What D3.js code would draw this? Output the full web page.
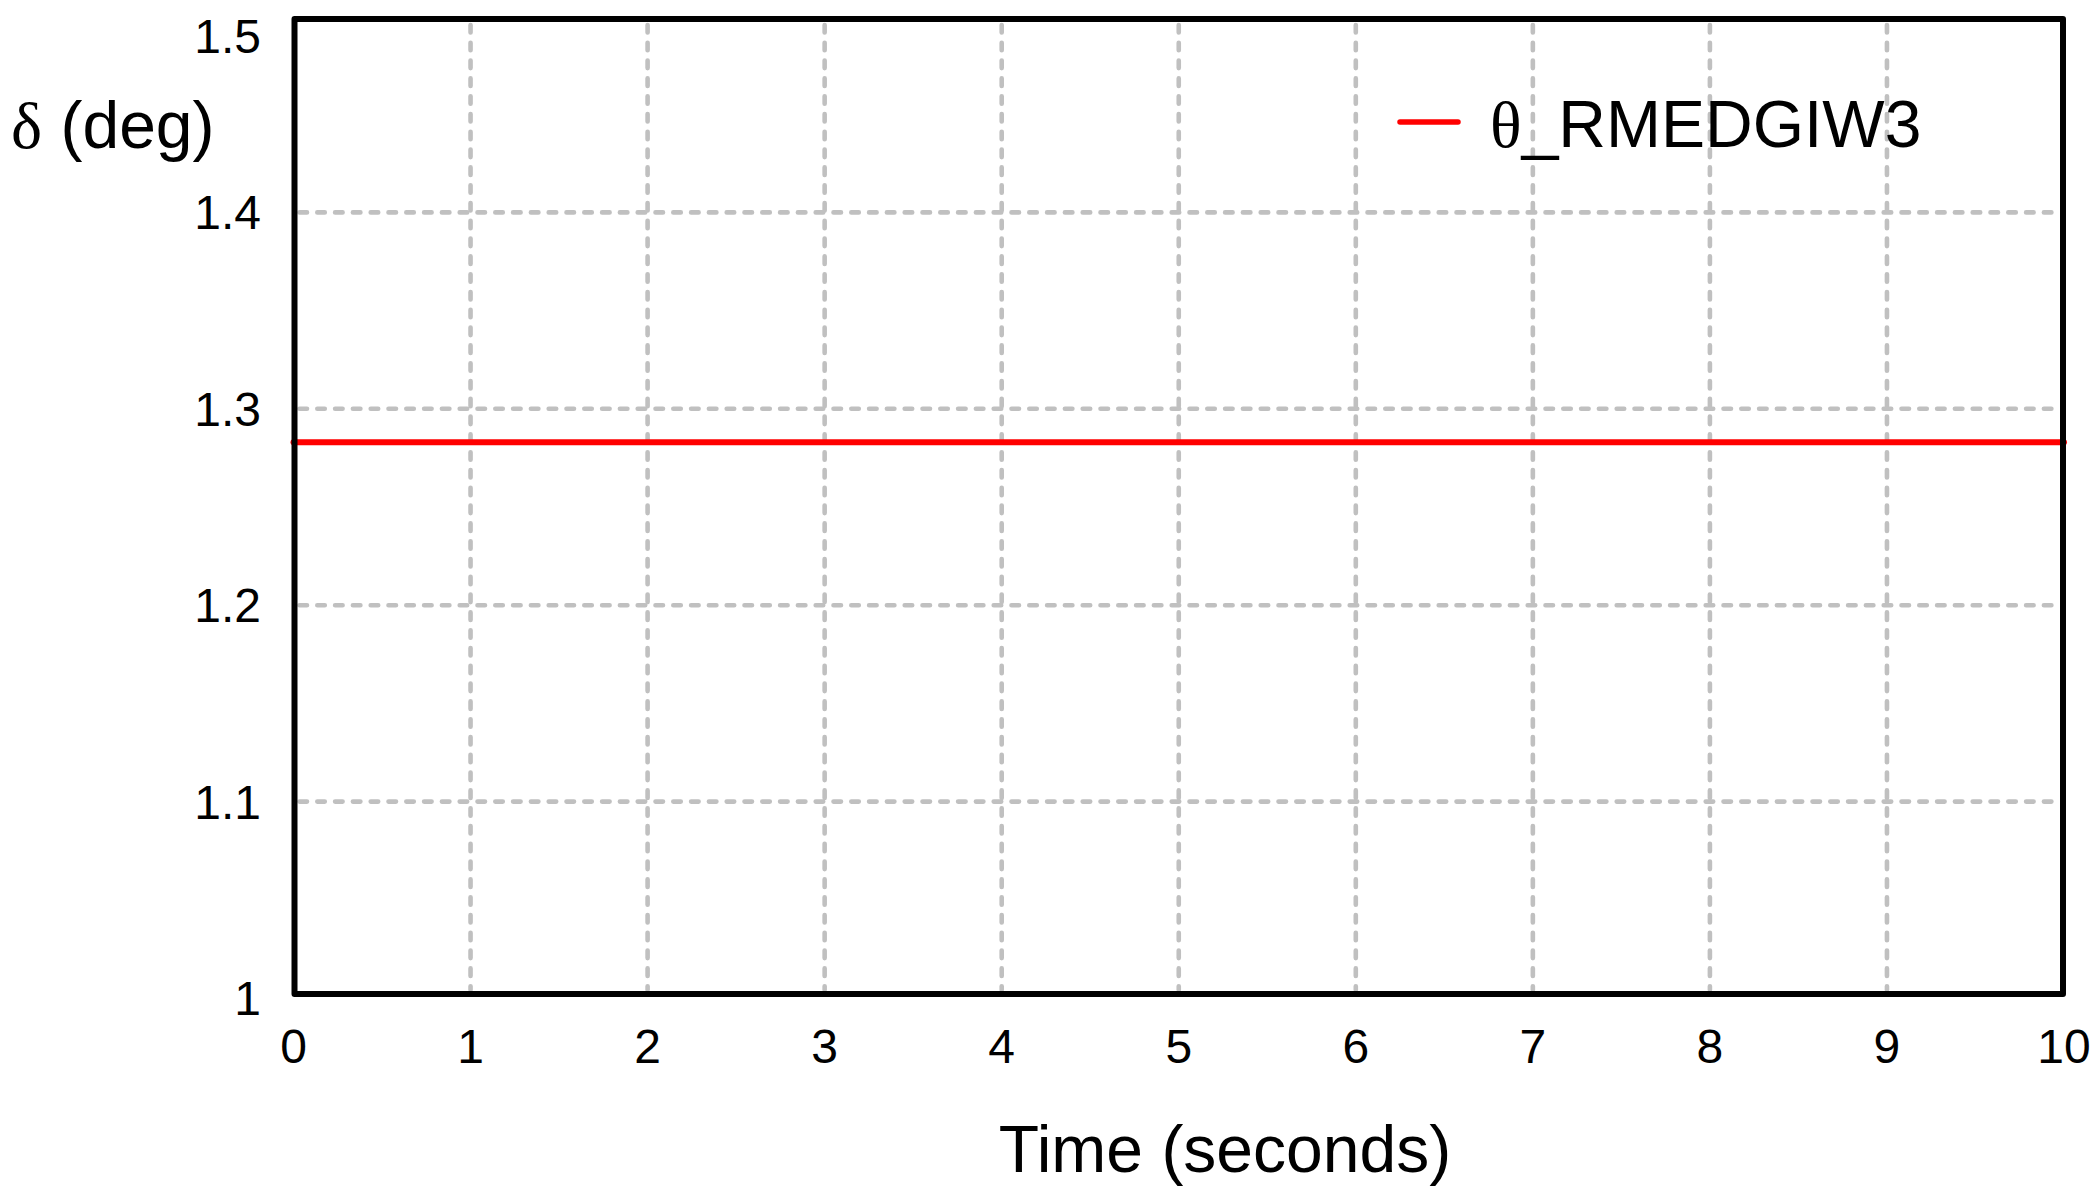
<!DOCTYPE html>
<html>
<head>
<meta charset="utf-8">
<script src="https://cdn.jsdelivr.net/npm/d3@7"></script>
<style>
  html, body { margin: 0; padding: 0; background: #fff; }
  svg { display: block; }
  text { font-family: "Liberation Sans", Arial, sans-serif; fill: #000; }
  .serif { font-family: "Liberation Serif", "Times New Roman", serif; }
</style>
</head>
<body>
<svg id="chart" width="2099" height="1197"></svg>
<script>
// ---- data ----
const timeValues = [0, 10];
const thetaValues = [1.283, 1.283];
const seriesName = "RMEDGIW3";
const xTicks = [0, 1, 2, 3, 4, 5, 6, 7, 8, 9, 10];
const yTicks = [1, 1.1, 1.2, 1.3, 1.4, 1.5];
const xTickLabels = ["0", "1", "2", "3", "4", "5", "6", "7", "8", "9", "10"];
const yTickLabels = ["1", "1.1", "1.2", "1.3", "1.4", "1.5"];

// ---- layout ----
const W = 2099, H = 1197;
const boxTop = 19, boxBottom = 994;
const svg = d3.select("#chart");
svg.append("rect").attr("width", W).attr("height", H).attr("fill", "#fff");

const x = d3.scaleLinear().domain([0, 10]).range([293.5, 2064]);
const y = d3.scaleLinear().domain([1, 1.5]).range([998, 16]);

// ---- grid ----
const grid = svg.append("g");
grid.selectAll("line.vg")
  .data(xTicks.filter(t => t > 0 && t < 10))
  .join("line")
  .attr("x1", d => x(d)).attr("x2", d => x(d))
  .attr("y1", boxTop + 6).attr("y2", boxBottom - 4)
  .attr("stroke", "#c0c0c0").attr("stroke-width", 4.6)
  .attr("stroke-linecap", "round")
  .attr("stroke-dasharray", "7.5 10.3");
grid.selectAll("line.hg")
  .data(yTicks.filter(t => t > 1 && t < 1.5))
  .join("line")
  .attr("x1", x(0) + 6).attr("x2", x(10) - 4)
  .attr("y1", d => y(d)).attr("y2", d => y(d))
  .attr("stroke", "#c0c0c0").attr("stroke-width", 4.6)
  .attr("stroke-linecap", "round")
  .attr("stroke-dasharray", "7.5 10.3");

// ---- data line ----
const pts = timeValues.map((t, i) => [t, thetaValues[i]]);
const line = d3.line().x(d => x(d[0])).y(d => y(d[1]));
svg.append("path")
  .datum(pts)
  .attr("d", line)
  .attr("fill", "none")
  .attr("stroke", "#ff0000")
  .attr("stroke-width", 6)
  .attr("stroke-linecap", "round");

// ---- frame ----
svg.append("rect")
  .attr("x", x(0) + 1).attr("y", boxTop)
  .attr("width", x(10) - x(0) - 2).attr("height", boxBottom - boxTop)
  .attr("fill", "none").attr("stroke", "#000").attr("stroke-width", 6)
  .attr("stroke-linejoin", "round");

// ---- tick labels ----
svg.append("g").selectAll("text")
  .data(xTicks)
  .join("text")
  .attr("x", d => x(d))
  .attr("y", 1063)
  .attr("text-anchor", "middle")
  .attr("font-size", 48)
  .text((d, i) => xTickLabels[i]);

svg.append("g").selectAll("text")
  .data(yTicks)
  .join("text")
  .attr("x", 261)
  .attr("y", d => Math.max(y(d) + 17, 53))
  .attr("text-anchor", "end")
  .attr("font-size", 48)
  .text((d, i) => yTickLabels[i]);

// ---- axis titles ----
svg.append("text")
  .attr("x", 1225).attr("y", 1172)
  .attr("text-anchor", "middle")
  .attr("font-size", 66)
  .text("Time (seconds)");

const yt = svg.append("text")
  .attr("x", 11).attr("y", 148)
  .attr("font-size", 66);
yt.append("tspan").attr("class", "serif").text("δ");
yt.append("tspan").text(" (deg)");

// ---- legend ----
svg.append("line")
  .attr("x1", 1400).attr("x2", 1458)
  .attr("y1", 122).attr("y2", 122)
  .attr("stroke", "#ff0000").attr("stroke-width", 5.5)
  .attr("stroke-linecap", "round");
const lt = svg.append("text").attr("x", 1490).attr("y", 147).attr("font-size", 66);
lt.append("tspan").attr("class", "serif").text("θ");
lt.append("tspan").text("_" + seriesName);
</script>
</body>
</html>
